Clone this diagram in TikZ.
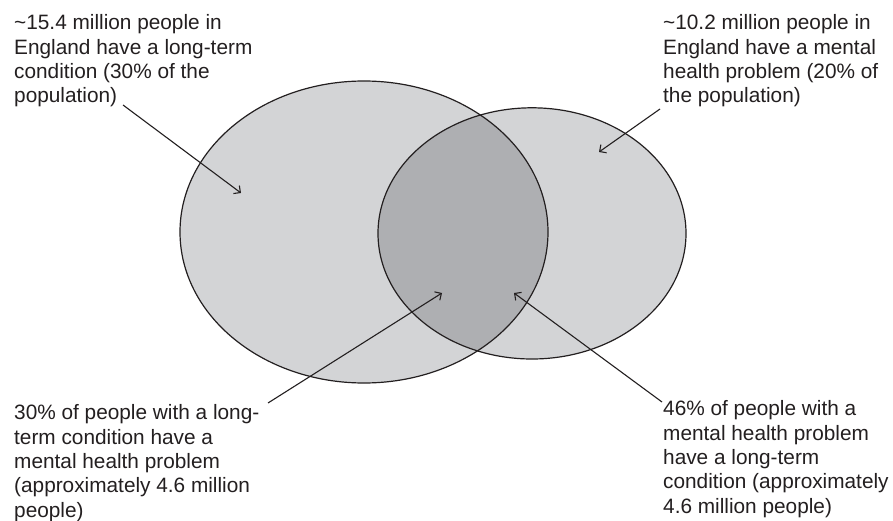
\documentclass[tikz,border=0pt]{standalone}
\usepackage{fontspec}
\setmainfont{Liberation Sans}
\usetikzlibrary{arrows.meta}
\definecolor{lightfill}{RGB}{211,212,214}
\definecolor{darkfill}{RGB}{174,175,178}
\definecolor{ink}{RGB}{35,31,32}
\begin{document}
\begin{tikzpicture}[x=1pt,y=-1pt,
  txt/.style={anchor=north west, inner sep=0pt, align=left,
    font=\fontsize{20.8pt}{24.4pt}\selectfont, text=ink},
  pointer/.style={draw=ink, line width=1.1pt,
    -{Straight Barb[length=5pt,width=10pt]}},
  outline/.style={draw=ink, line width=1.2pt},
  leftell/.style={x radius=184pt, y radius=151pt},
  rightell/.style={x radius=154pt, y radius=125.6pt}]
\useasboundingbox (0,0) rectangle (893,521);
\fill[white] (0,0) rectangle (893,521);
\coordinate (lc) at (364,232);
\coordinate (rc) at (532,233.4);
\fill[lightfill] (lc) ellipse [leftell];
\fill[lightfill] (rc) ellipse [rightell];
\begin{scope}
  \clip (lc) ellipse [leftell];
  \fill[darkfill] (rc) ellipse [rightell];
\end{scope}
\draw[outline] (lc) ellipse [leftell];
\draw[outline] (rc) ellipse [rightell];

\node[txt] (tl) at (14,14.5) {\textasciitilde 15.4 million people in\\England have a long-term\\condition (30\% of the\\population)};
\node[txt] (tr) at (663,14.5) {\textasciitilde 10.2 million people in\\England have a mental\\health problem (20\% of\\the population)};
\node[txt] (bl) at (14,404.5) {30\% of people with a long-\\term condition have a\\mental health problem\\(approximately 4.6 million\\people)};
\node[txt] (br) at (663,400.5) {46\% of people with a\\mental health problem\\have a long-term\\condition (approximately\\4.6 million people)};

\coordinate (a1s) at (123,105);
\coordinate (a1e) at (241,193);
\coordinate (a2s) at (660,109);
\coordinate (a2e) at (599,152);
\coordinate (a3s) at (268,403);
\coordinate (a3e) at (442,293);
\coordinate (a4s) at (662,402);
\coordinate (a4e) at (514,293);
\draw[pointer] (a1s) -- (a1e);
\draw[pointer] (a2s) -- (a2e);
\draw[pointer] (a3s) -- (a3e);
\draw[pointer] (a4s) -- (a4e);
\end{tikzpicture}
\end{document}
